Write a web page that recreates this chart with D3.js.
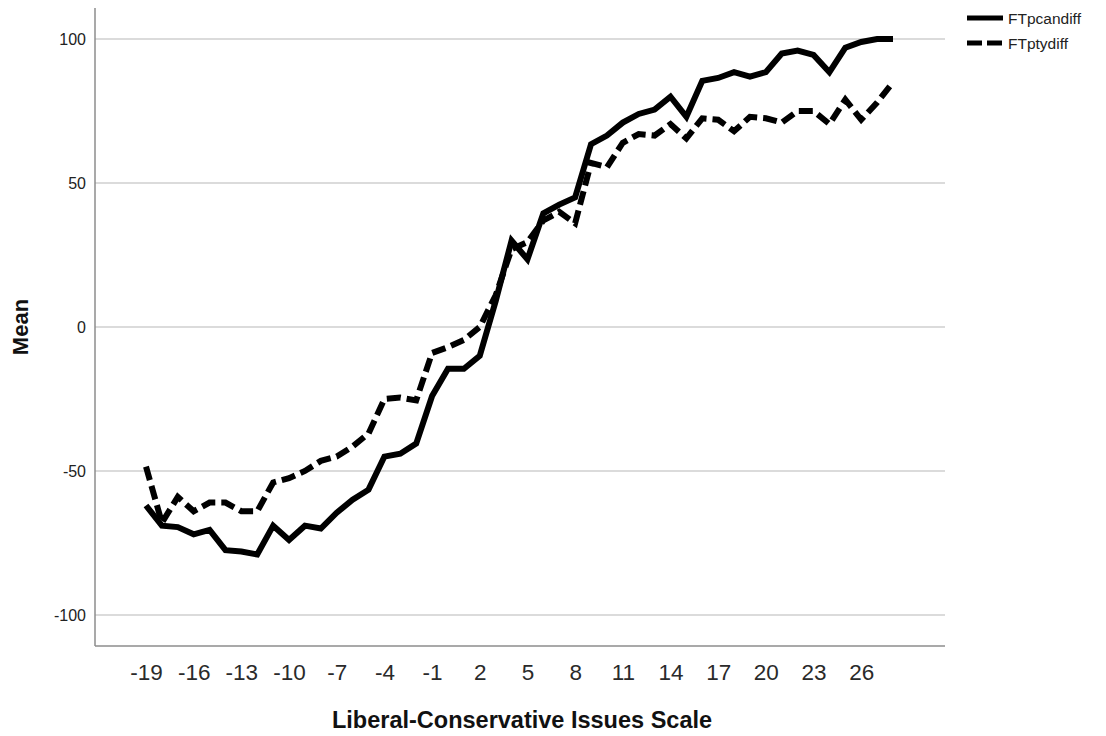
<!DOCTYPE html>
<html>
<head>
<meta charset="utf-8">
<script src="https://cdn.jsdelivr.net/npm/d3@7"></script>
<style>
  html, body { margin: 0; padding: 0; background: #fff; }
  svg { display: block; font-family: "Liberation Sans", Arial, sans-serif; }
</style>
</head>
<body>
<svg id="chart" width="1106" height="736"></svg>
<script>
// Scale scores (x categories)
const scaleScores = d3.range(-19, 29);

// Mean feeling-thermometer difference, candidates
const ftPcandiff = [
  -62, -69, -69.5, -72, -70.5, -77.5, -78, -79, -69, -74,
  -69, -70, -64.5, -60, -56.5, -45, -44, -40.5, -24, -14.5,
  -14.5, -10, 9, 30, 23.5, 39.5, 42.5, 45, 63.5, 66.5,
  71, 74, 75.5, 80, 73, 85.5, 86.5, 88.5, 87, 88.5,
  95, 96, 94.5, 88.5, 97, 99, 100, 100
];

// Mean feeling-thermometer difference, parties
const ftPtydiff = [
  -48.5, -68, -59, -64, -61, -61, -64, -64, -54, -52.5,
  -50, -46.5, -45, -41.5, -37, -25, -24.5, -25.5, -9, -7,
  -4.5, 0, 11, 27, 29.5, 37, 40, 36, 57, 55.5,
  64, 67, 66.5, 70.5, 65.5, 72.5, 72, 68, 73, 72.5,
  71, 75, 75, 70.5, 79, 72, 78, 85
];

const yTicks = [-100, -50, 0, 50, 100];
const xTickLabels = d3.range(-19, 27, 3);

const seriesNames = ["FTpcandiff", "FTptydiff"];

const svg = d3.select("#chart");
const plot = { left: 95, right: 945, top: 8, bottom: 646 };

const x = d3.scalePoint()
  .domain(scaleScores)
  .range([146, 893]);

const y = d3.scaleLinear()
  .domain([-110.8, 110.8])
  .range([plot.bottom, plot.top]);

// Horizontal gridlines
svg.append("g")
  .selectAll("line")
  .data(yTicks)
  .join("line")
  .attr("x1", plot.left)
  .attr("x2", plot.right)
  .attr("y1", d => y(d))
  .attr("y2", d => y(d))
  .attr("stroke", "#cfcfcf")
  .attr("stroke-width", 1.5);

// Y axis
const yAxis = svg.append("g")
  .attr("transform", `translate(${plot.left},0)`)
  .call(d3.axisLeft(y).tickValues(yTicks).tickFormat(d => String(d)).tickSize(0).tickPadding(9));
yAxis.select(".domain").remove();
yAxis.selectAll("text")
  .attr("font-size", 16)
  .attr("fill", "#222")
  .attr("font-family", "Liberation Sans, Arial, sans-serif");

// X axis
const xAxis = svg.append("g")
  .attr("transform", `translate(0,${plot.bottom})`)
  .call(d3.axisBottom(x).tickValues(xTickLabels).tickFormat(d => String(d)).tickSize(0).tickPadding(18));
xAxis.select(".domain").remove();
xAxis.selectAll("text")
  .attr("font-size", 22.5)
  .attr("fill", "#2a2a2a")
  .attr("font-family", "Liberation Sans, Arial, sans-serif");

// Axis frame lines
svg.append("line")
  .attr("x1", plot.left).attr("x2", plot.left)
  .attr("y1", plot.top).attr("y2", plot.bottom)
  .attr("stroke", "#8c8c8c").attr("stroke-width", 1.5);
svg.append("line")
  .attr("x1", plot.left).attr("x2", plot.right)
  .attr("y1", plot.bottom).attr("y2", plot.bottom)
  .attr("stroke", "#8c8c8c").attr("stroke-width", 1.5);

// Lines
const line = d3.line()
  .x((d, i) => x(scaleScores[i]))
  .y(d => y(d));

svg.append("path")
  .datum(ftPtydiff)
  .attr("d", line)
  .attr("fill", "none")
  .attr("stroke", "#000")
  .attr("stroke-width", 6)
  .attr("stroke-linejoin", "miter")
  .attr("stroke-dasharray", "14,6");

svg.append("path")
  .datum(ftPcandiff)
  .attr("d", line)
  .attr("fill", "none")
  .attr("stroke", "#000")
  .attr("stroke-width", 6)
  .attr("stroke-linejoin", "miter");

// Axis titles
svg.append("text")
  .attr("x", 522)
  .attr("y", 728)
  .attr("text-anchor", "middle")
  .attr("font-size", 23.5)
  .attr("font-weight", "bold")
  .attr("fill", "#111")
  .text("Liberal-Conservative Issues Scale");

svg.append("text")
  .attr("transform", `translate(28,${y(0)}) rotate(-90)`)
  .attr("text-anchor", "middle")
  .attr("font-size", 22)
  .attr("font-weight", "bold")
  .attr("fill", "#111")
  .text("Mean");

// Legend
const legend = svg.append("g").attr("transform", "translate(967,18)");
seriesNames.forEach((name, i) => {
  const g = legend.append("g").attr("transform", `translate(0,${i * 25})`);
  g.append("line")
    .attr("x1", 0).attr("x2", 36)
    .attr("y1", 0).attr("y2", 0)
    .attr("stroke", "#000")
    .attr("stroke-width", 5)
    .attr("stroke-dasharray", i === 1 ? "15,5" : null);
  g.append("text")
    .attr("x", 41)
    .attr("y", 5.5)
    .attr("font-size", 15.5)
    .attr("fill", "#222")
    .text(name);
});
</script>
</body>
</html>
